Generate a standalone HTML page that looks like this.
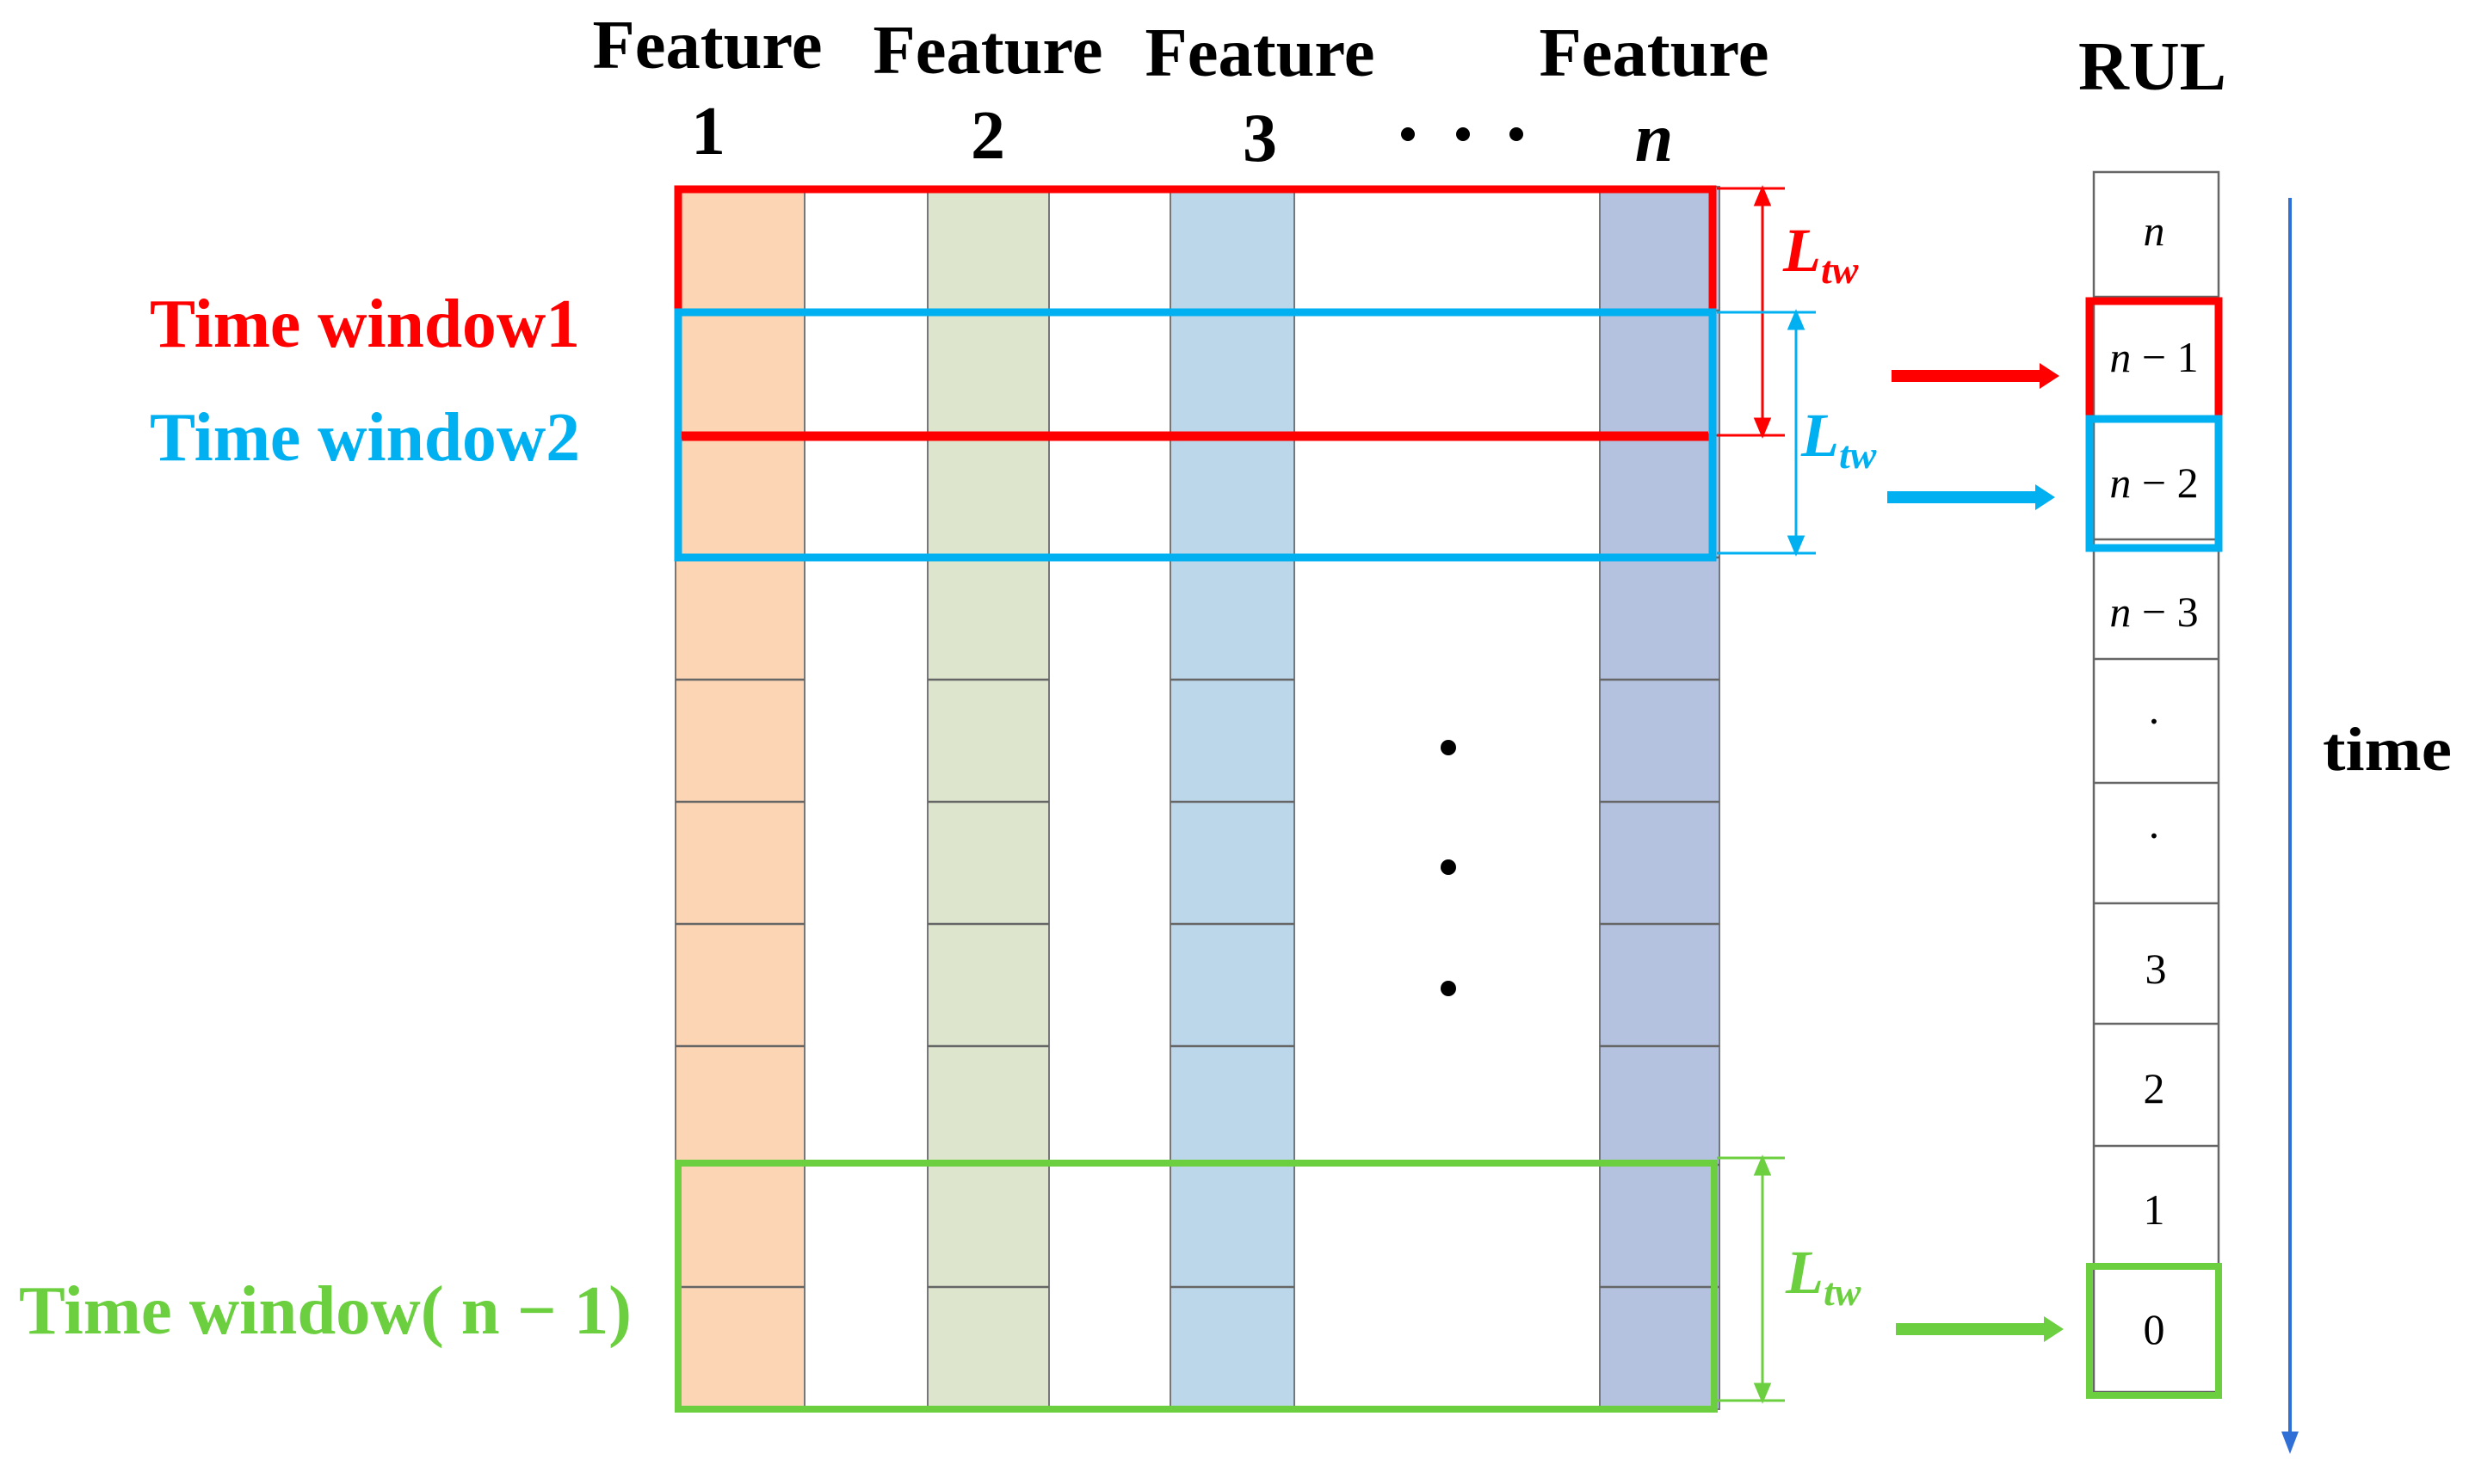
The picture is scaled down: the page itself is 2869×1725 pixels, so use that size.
<!DOCTYPE html>
<html><head><meta charset="utf-8"><style>
html,body{margin:0;padding:0;background:#fff;}
svg{display:block;}
text{font-family:"Liberation Serif",serif;}
</style></head><body>
<svg width="2869" height="1725" viewBox="0 0 2869 1725" xmlns="http://www.w3.org/2000/svg">
<defs>
<marker id="ar" markerWidth="6" markerHeight="6" refX="5" refY="3" orient="auto" markerUnits="strokeWidth"><path d="M0,0 L6,3 L0,6 Z" fill="#ff0000"/></marker>
</defs>
<!-- columns -->
<g stroke="#777" stroke-width="2">
<rect x="785" y="217" width="150" height="1421" fill="#fcd5b5"/>
<rect x="1078" y="217" width="141" height="1421" fill="#dde6cd"/>
<rect x="1360" y="217" width="144" height="1421" fill="#bdd7ea"/>
<rect x="1859" y="217" width="139" height="1421" fill="#b4c2e0"/>
</g>
<g stroke="#666" stroke-width="2.5">
<path d="M785 361H935M1078 361H1219M1360 361H1504M1859 361H1998
M785 506H935M1078 506H1219M1360 506H1504M1859 506H1998
M785 648H935M1078 648H1219M1360 648H1504M1859 648H1998
M785 790H935M1078 790H1219M1360 790H1504M1859 790H1998
M785 932H935M1078 932H1219M1360 932H1504M1859 932H1998
M785 1074H935M1078 1074H1219M1360 1074H1504M1859 1074H1998
M785 1216H935M1078 1216H1219M1360 1216H1504M1859 1216H1998
M785 1354H935M1078 1354H1219M1360 1354H1504M1859 1354H1998
M785 1496H935M1078 1496H1219M1360 1496H1504M1859 1496H1998"/>
</g>
<!-- dots -->
<circle cx="1683" cy="869" r="9" fill="#000"/>
<circle cx="1683" cy="1008" r="9" fill="#000"/>
<circle cx="1683" cy="1149" r="9" fill="#000"/>
<!-- windows -->
<rect x="788" y="220" width="1202" height="288" fill="none" stroke="#ff0000" stroke-width="9"/>
<rect x="788" y="363" width="1202" height="285" fill="none" stroke="#00b0f0" stroke-width="9"/>
<line x1="792" y1="506" x2="1985" y2="506" stroke="#ff0000" stroke-width="9"/>
<rect x="788" y="1352" width="1204" height="286" fill="none" stroke="#6ccf3f" stroke-width="8"/>
<!-- dimension lines -->
<g stroke="#ff0000" stroke-width="3" fill="#ff0000">
<line x1="1995" y1="219" x2="2074" y2="219"/><line x1="1995" y1="506" x2="2074" y2="506"/>
<line x1="2048" y1="235" x2="2048" y2="490"/>
<path d="M2048 219 L2040 238 L2056 238Z"/><path d="M2048 506 L2040 487 L2056 487Z"/>
</g>
<g stroke="#00b0f0" stroke-width="3" fill="#00b0f0">
<line x1="1995" y1="363" x2="2110" y2="363"/><line x1="1995" y1="643" x2="2110" y2="643"/>
<line x1="2087" y1="378" x2="2087" y2="628"/>
<path d="M2087 363 L2079 382 L2095 382Z"/><path d="M2087 643 L2079 624 L2095 624Z"/>
</g>
<g stroke="#6ccf3f" stroke-width="3" fill="#6ccf3f">
<line x1="1995" y1="1346" x2="2074" y2="1346"/><line x1="1995" y1="1628" x2="2074" y2="1628"/>
<line x1="2048" y1="1362" x2="2048" y2="1612"/>
<path d="M2048 1346 L2040 1365 L2056 1365Z"/><path d="M2048 1628 L2040 1609 L2056 1609Z"/>
</g>
<g font-style="italic" font-weight="bold">
<text x="2072" y="315" font-size="72" fill="#ff0000">L<tspan font-size="46" dy="14">tw</tspan></text>
<text x="2093" y="530" font-size="72" fill="#00b0f0">L<tspan font-size="46" dy="14">tw</tspan></text>
<text x="2075" y="1503" font-size="72" fill="#6ccf3f">L<tspan font-size="46" dy="14">tw</tspan></text>
</g>
<!-- arrows to RUL -->
<line x1="2198" y1="437" x2="2375" y2="437" stroke="#ff0000" stroke-width="14"/><path d="M2393 437 L2370 422 L2370 452Z" fill="#ff0000"/>
<line x1="2193" y1="578" x2="2370" y2="578" stroke="#00b0f0" stroke-width="14"/><path d="M2388 578 L2365 563 L2365 593Z" fill="#00b0f0"/>
<line x1="2203" y1="1545" x2="2380" y2="1545" stroke="#6ccf3f" stroke-width="14"/><path d="M2398 1545 L2375 1530 L2375 1560Z" fill="#6ccf3f"/>
<!-- RUL column -->
<g stroke="#666" stroke-width="2.5" fill="#fff">
<rect x="2433" y="200" width="145" height="1418"/>
<path d="M2433 345H2578M2433 488H2578M2433 627H2578M2433 766H2578M2433 910H2578M2433 1050H2578M2433 1190H2578M2433 1332H2578M2433 1470H2578"/>
</g>
<rect x="2428" y="350" width="150" height="137" fill="none" stroke="#ff0000" stroke-width="9"/>
<rect x="2428" y="487" width="150" height="150" fill="none" stroke="#00b0f0" stroke-width="9"/>
<rect x="2428" y="1472" width="150" height="150" fill="none" stroke="#6ccf3f" stroke-width="8"/>
<g font-size="50" text-anchor="middle" fill="#000">
<text x="2503" y="285" font-style="italic">n</text>
<text x="2503" y="432"><tspan font-style="italic">n</tspan> − 1</text>
<text x="2503" y="578"><tspan font-style="italic">n</tspan> − 2</text>
<text x="2503" y="728"><tspan font-style="italic">n</tspan> − 3</text>
<text x="2503" y="855">·</text>
<text x="2503" y="988">·</text>
<text x="2505" y="1143">3</text>
<text x="2503" y="1282">2</text>
<text x="2503" y="1423">1</text>
<text x="2503" y="1562">0</text>
</g>
<!-- time arrow -->
<line x1="2661" y1="230" x2="2661" y2="1665" stroke="#2f6fd6" stroke-width="4"/>
<path d="M2661 1690 L2651 1664 L2671 1664Z" fill="#2f6fd6"/>
<text x="2699" y="895" font-size="72" font-weight="bold" textLength="150" lengthAdjust="spacingAndGlyphs">time</text>
<!-- headers -->
<g font-weight="bold" font-size="80" fill="#000" text-anchor="middle">
<text x="2501" y="104" textLength="172" lengthAdjust="spacingAndGlyphs">RUL</text>
<text x="822" y="79" textLength="267" lengthAdjust="spacingAndGlyphs">Feature</text>
<text x="1148" y="85" textLength="267" lengthAdjust="spacingAndGlyphs">Feature</text>
<text x="1464" y="88" textLength="267" lengthAdjust="spacingAndGlyphs">Feature</text>
<text x="1922" y="88" textLength="267" lengthAdjust="spacingAndGlyphs">Feature</text>
<text x="823" y="179">1</text>
<text x="1148" y="184">2</text>
<text x="1464" y="187">3</text>
<text x="1922" y="187" font-style="italic">n</text>
</g>
<circle cx="1636" cy="156" r="8" fill="#000"/><circle cx="1700" cy="156" r="8" fill="#000"/><circle cx="1762" cy="156" r="8" fill="#000"/>
<!-- left labels -->
<g font-weight="bold" font-size="80">
<text x="174" y="403" fill="#ff0000" textLength="500" lengthAdjust="spacingAndGlyphs">Time window1</text>
<text x="174" y="535" fill="#00b0f0" textLength="500" lengthAdjust="spacingAndGlyphs">Time window2</text>
<text x="22" y="1550" fill="#6ccf3f" textLength="712" lengthAdjust="spacingAndGlyphs">Time window( n − 1)</text>
</g>
</svg>
</body></html>
